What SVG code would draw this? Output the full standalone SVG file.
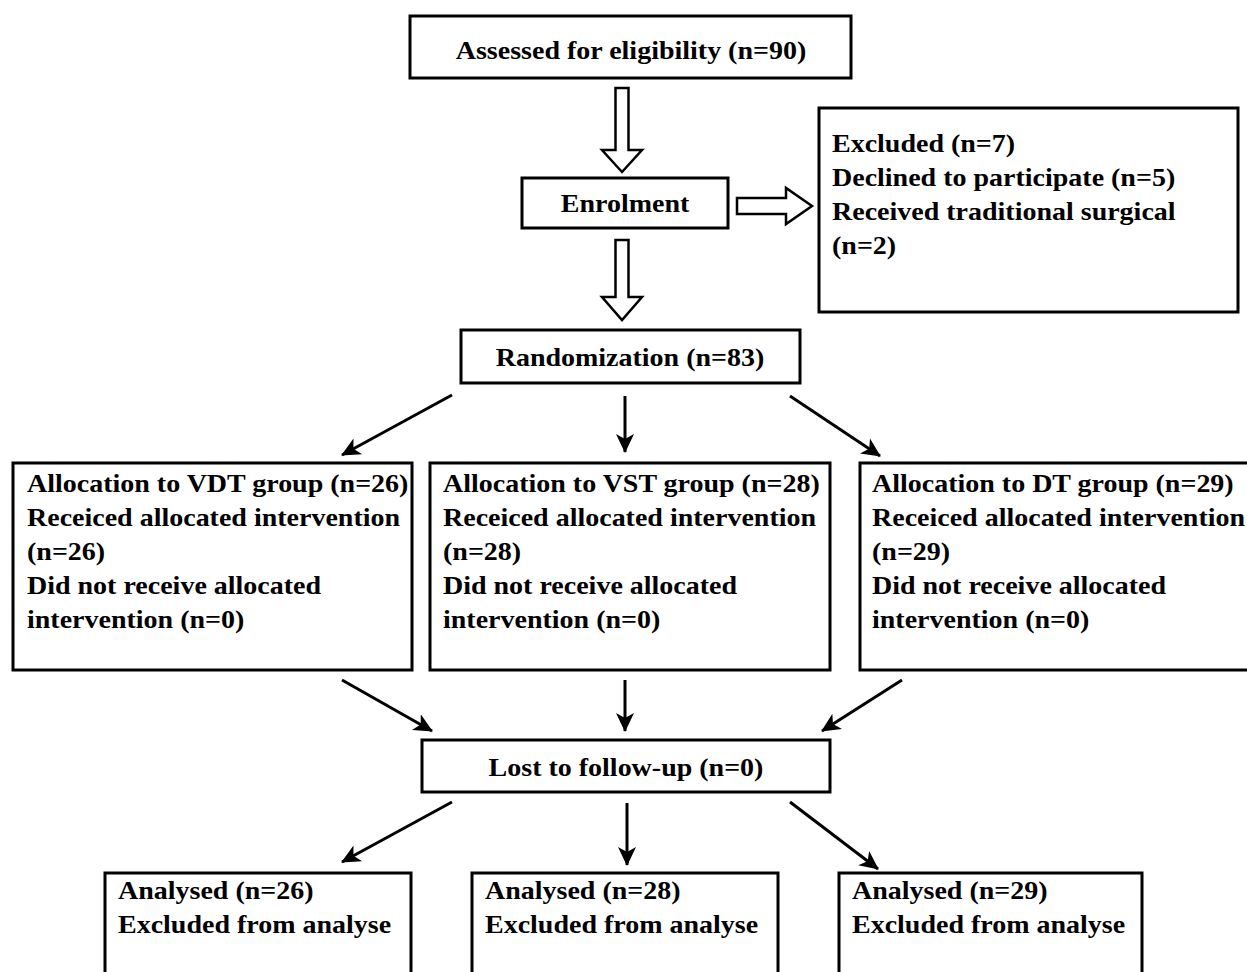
<svg xmlns="http://www.w3.org/2000/svg" width="1247" height="972" viewBox="0 0 1247 972">
<style>
.box{fill:#fff;stroke:#000;stroke-width:3}
.blk{fill:#fff;stroke:#000;stroke-width:2.5;stroke-linejoin:miter}
.t{font-family:"Liberation Serif","Times New Roman",serif;font-weight:bold;font-size:25px;fill:#000}
.c{text-anchor:middle}
.ln{fill:none;stroke:#000;stroke-width:3;marker-end:url(#ah)}
</style>
<defs>
<marker id="ah" markerUnits="userSpaceOnUse" markerWidth="22" markerHeight="22" refX="18" refY="10" orient="auto" viewBox="0 0 22 20">
<path d="M0,1 L19,10 L0,19 L5,10 z" fill="#000"/>
</marker>
</defs>
<rect width="1247" height="972" fill="#fff"/>

<g id="connectors">
<path class="blk" d="M615.5,88 H628.5 V150 H642 L622,172 L602,150 H615.5 Z"/>
<path class="blk" d="M615.5,240 H628.5 V297 H642 L622,320 L602,297 H615.5 Z"/>
<path class="blk" d="M737,198 H786 V188 L812,206 L786,224 V214 H737 Z"/>
<line class="ln" x1="452" y1="395" x2="342" y2="455"/>
<line class="ln" x1="625" y1="396" x2="625" y2="452"/>
<line class="ln" x1="790" y1="396" x2="880" y2="456"/>
<line class="ln" x1="342" y1="680" x2="432" y2="731"/>
<line class="ln" x1="625" y1="680" x2="625" y2="731"/>
<line class="ln" x1="902" y1="680" x2="822" y2="731"/>
<line class="ln" x1="452" y1="802" x2="342" y2="862"/>
<line class="ln" x1="627" y1="803" x2="627" y2="865"/>
<line class="ln" x1="790" y1="802" x2="878" y2="869"/>
</g>

<g id="assessed">
<rect class="box" x="410" y="16" width="441" height="62"/>
<text class="t c" transform="translate(631,0) scale(1.12,1)"><tspan x="0" y="59">Assessed  for eligibility (n=90)</tspan></text>
</g>

<g id="enrolment">
<rect class="box" x="522" y="178" width="206" height="50"/>
<text class="t c" transform="translate(625,0) scale(1.12,1)"><tspan x="0" y="212">Enrolment</tspan></text>
</g>

<g id="excluded">
<rect class="box" x="819" y="108" width="419" height="204"/>
<text class="t" transform="translate(832,0) scale(1.12,1)"><tspan x="0" y="152">Excluded (n=7)</tspan><tspan x="0" y="186">Declined to participate (n=5)</tspan><tspan x="0" y="220">Received traditional surgical</tspan><tspan x="0" y="254">(n=2)</tspan></text>
</g>

<g id="randomization">
<rect class="box" x="461" y="330" width="339" height="53"/>
<text class="t c" transform="translate(630,0) scale(1.12,1)"><tspan x="0" y="366">Randomization (n=83)</tspan></text>
</g>

<g id="alloc-vdt">
<rect class="box" x="13" y="463" width="399" height="207"/>
<text class="t" transform="translate(27,0) scale(1.12,1)"><tspan x="0" y="492">Allocation to VDT group (n=26)</tspan><tspan x="0" y="526">Receiced allocated intervention</tspan><tspan x="0" y="560">(n=26)</tspan><tspan x="0" y="594">Did not receive allocated</tspan><tspan x="0" y="628">intervention (n=0)</tspan></text>
</g>

<g id="alloc-vst">
<rect class="box" x="430" y="463" width="400" height="207"/>
<text class="t" transform="translate(443,0) scale(1.12,1)"><tspan x="0" y="492">Allocation to VST group (n=28)</tspan><tspan x="0" y="526">Receiced allocated intervention</tspan><tspan x="0" y="560">(n=28)</tspan><tspan x="0" y="594">Did not receive allocated</tspan><tspan x="0" y="628">intervention (n=0)</tspan></text>
</g>

<g id="alloc-dt">
<rect class="box" x="860" y="463" width="392" height="207"/>
<text class="t" transform="translate(872,0) scale(1.12,1)"><tspan x="0" y="492">Allocation to DT group (n=29)</tspan><tspan x="0" y="526">Receiced allocated intervention</tspan><tspan x="0" y="560">(n=29)</tspan><tspan x="0" y="594">Did not receive allocated</tspan><tspan x="0" y="628">intervention (n=0)</tspan></text>
</g>

<g id="lost">
<rect class="box" x="422" y="740" width="408" height="52"/>
<text class="t c" transform="translate(626,0) scale(1.12,1)"><tspan x="0" y="776">Lost to follow-up (n=0)</tspan></text>
</g>

<g id="analysed-vdt">
<rect class="box" x="105" y="873" width="306" height="130"/>
<text class="t" transform="translate(118,0) scale(1.12,1)"><tspan x="0" y="899">Analysed (n=26)</tspan><tspan x="0" y="933">Excluded from analyse</tspan></text>
</g>

<g id="analysed-vst">
<rect class="box" x="472" y="873" width="306" height="130"/>
<text class="t" transform="translate(485,0) scale(1.12,1)"><tspan x="0" y="899">Analysed (n=28)</tspan><tspan x="0" y="933">Excluded from analyse</tspan></text>
</g>

<g id="analysed-dt">
<rect class="box" x="839" y="873" width="303" height="130"/>
<text class="t" transform="translate(852,0) scale(1.12,1)"><tspan x="0" y="899">Analysed (n=29)</tspan><tspan x="0" y="933">Excluded from analyse</tspan></text>
</g>
</svg>
